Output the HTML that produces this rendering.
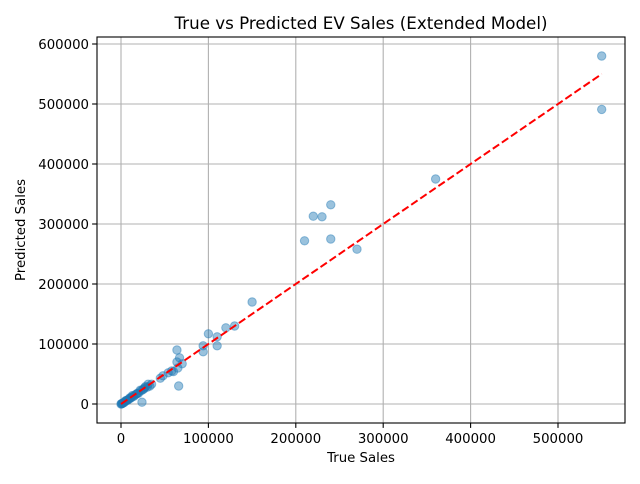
<!DOCTYPE html>
<html><head><meta charset="utf-8"><style>
body{margin:0;background:#fff;font-family:"DejaVu Sans","Liberation Sans",sans-serif}
</style></head><body>
<svg id="chart" width="640" height="480" xmlns="http://www.w3.org/2000/svg" font-family="DejaVu Sans, Liberation Sans, sans-serif"></svg>
<script>
const trueSales=[550000,550000,360000,240000,220000,230000,210000,240000,270000,150000,100000,130000,120000,110000,110000,94000,94000,64000,64000,67000,66000,24000,70000,65000,58000,54000,60000,45000,48000,33000,31000,27000,35000,20000,22000,25000,28000,15000,17000,13000,10000,12000,8000,5000,6000,3000,2000,1000,0,500,1500,4000,7000,9000,11000,14000,18000,19000,23000,26000,30000];
const predSales=[580000,491000,375000,332000,313000,312000,272000,275000,258000,170000,117000,130000,127000,112000,97000,97000,87000,90000,70000,77000,30000,3000,67000,60000,55000,52000,54000,43000,47000,30000,33000,27000,33000,18000,23000,24000,29000,13000,16000,14000,10000,11000,7000,5000,6000,2000,1500,500,0,300,1000,3000,6000,8000,10000,13000,17000,18000,22000,25000,28000];
const xTicks=[0,100000,200000,300000,400000,500000];
const yTicks=[0,100000,200000,300000,400000,500000,600000];
const L=97,R=625,T=37,B=423;
const sx=v=>121+v*87.4/100000, sy=v=>404-v*60/100000;
const svg=document.getElementById('chart');const NS='http://www.w3.org/2000/svg';
function mk(t,a,p){const e=document.createElementNS(NS,t);for(const k in a)e.setAttribute(k,a[k]);(p||svg).appendChild(e);return e;}
const grid=mk('g',{});


xTicks.forEach(v=>{mk('line',{x1:sx(v),x2:sx(v),y1:T,y2:B,stroke:'#b0b0b0','stroke-width':1.1},grid);
mk('line',{x1:sx(v),x2:sx(v),y1:B,y2:B+4.9,stroke:'#000','stroke-width':1.1});
const t=mk('text',{x:sx(v),y:B+20,'text-anchor':'middle','font-size':13.3});t.textContent=v;

});
yTicks.forEach(v=>{mk('line',{x1:L,x2:R,y1:sy(v),y2:sy(v),stroke:'#b0b0b0','stroke-width':1.1},grid);
mk('line',{x1:L-4.9,x2:L,y1:sy(v),y2:sy(v),stroke:'#000','stroke-width':1.1});
const t=mk('text',{x:L-8,y:sy(v)+5,'text-anchor':'end','font-size':13.3});t.textContent=v;

});
const pts=mk('g',{});


trueSales.forEach((v,i)=>{const c=mk('circle',{cx:sx(v),cy:sy(predSales[i]),r:4.2,fill:'#1f77b4','fill-opacity':0.45,stroke:'#1f77b4','stroke-opacity':0.45,'stroke-width':1},pts);

});
const ln=mk('line',{x1:sx(0),y1:sy(0),x2:sx(550000),y2:sy(550000),stroke:'red','stroke-width':2,'stroke-dasharray':'7.7,3.3'});


const fr=mk('rect',{x:L,y:T,width:R-L,height:B-T,fill:'none',stroke:'#000','stroke-width':1.1});


let t=mk('text',{x:361,y:29,'text-anchor':'middle','font-size':16.7});t.textContent='True vs Predicted EV Sales (Extended Model)';


t=mk('text',{x:361,y:462,'text-anchor':'middle','font-size':13.3});t.textContent='True Sales';


t=mk('text',{x:25,y:230,'text-anchor':'middle','font-size':13.3,transform:'rotate(-90 25 230)'});t.textContent='Predicted Sales';


</script>
</body></html>
